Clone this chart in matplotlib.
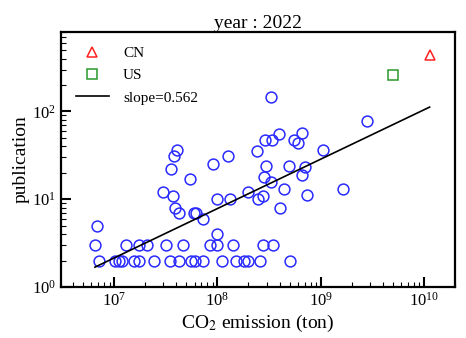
import numpy as np
import matplotlib.pyplot as plt
from matplotlib.ticker import LogLocator, NullFormatter

# countries: CO2 emission (ton) vs publication count, year 2022
emission = [6.8e6, 6.5e6, 7.1e6, 1.02e7, 1.1e7, 1.2e7, 1.3e7, 1.56e7, 1.75e7, 1.75e7,
            2.1e7, 2.44e7, 2.94e7, 3.2e7, 3.47e7, 3.55e7, 3.8e7, 4.07e7, 3.7e7, 3.9e7,
            4.2e7, 4.2e7, 4.67e7, 5.43e7, 5.6e7, 5.9e7, 6.2e7, 6.1e7, 7.3e7, 7.3e7,
            8.4e7, 9.0e7, 1.0e8, 1.0e8, 1.0e8, 1.1e8, 1.26e8, 1.31e8, 1.41e8, 1.52e8,
            1.82e8, 1.96e8, 2.0e8, 2.4e8, 2.45e8, 2.6e8, 2.76e8, 2.76e8, 2.92e8, 3.4e8,
            3.94e8, 3.3e8, 2.95e8, 2.8e8, 3.3e8, 4.4e8, 4.05e8, 3.45e8, 4.9e8, 5.0e8,
            5.5e8, 6.0e8, 6.6e8, 6.6e8, 7.0e8, 7.4e8, 1.05e9, 1.66e9, 2.8e9]
publication = [5, 3, 2, 2, 2, 2, 3, 2, 2, 3,
               3, 2, 12, 3, 2, 22, 31, 36, 11, 8,
               7, 2, 3, 17, 2, 7, 7, 2, 6, 2,
               3, 25, 10, 4, 3, 2, 31, 10, 3, 2,
               2, 2, 12, 35, 10, 2, 11, 3, 47, 47,
               55, 145, 24, 18, 15.5, 13.2, 8, 3, 24, 2,
               47.6, 43.6, 56, 19, 23.3, 11.1, 36, 13, 77]

cn = (1.14e10, 441)
us = (5.0e9, 261)

slope = 0.562
intercept = -3.603

plt.rcParams['font.family'] = ['Liberation Serif', 'DejaVu Serif']
plt.rcParams['mathtext.fontset'] = 'stix'

fig = plt.figure(figsize=(4.66, 3.38), dpi=100)
ax = fig.add_axes([0.131, 0.151, 0.845, 0.754])

ax.plot(emission, publication, 'o', mfc='none', mec='#2a2aff', mew=1.1, ms=7.8,
        linestyle='none')
ax.plot([cn[0]], [cn[1]], '^', mfc='none', mec='#ff2020', mew=1.1, ms=7,
        linestyle='none', label='CN')
ax.plot([us[0]], [us[1]], 's', mfc='none', mec='#2a9a2a', mew=1.1, ms=7,
        linestyle='none', label='US')

xs = np.array([min(emission), cn[0]])
ax.plot(xs, 10 ** (slope * np.log10(xs) + intercept), color='black', lw=1.2,
        label=f'slope={slope}')

ax.set_xscale('log')
ax.set_yscale('log')
ax.set_xlim(3.05e6, 2e10)
ax.set_ylim(1, 800)

ax.xaxis.set_major_locator(LogLocator(base=10, numticks=10))
ax.xaxis.set_minor_locator(LogLocator(base=10, subs=np.arange(2, 10), numticks=20))
ax.yaxis.set_minor_locator(LogLocator(base=10, subs=np.arange(2, 10), numticks=20))
ax.xaxis.set_minor_formatter(NullFormatter())
ax.yaxis.set_minor_formatter(NullFormatter())

ax.tick_params(which='both', direction='in', top=False, right=False, labelsize=12)
ax.tick_params(which='major', length=7, width=1.5)
ax.tick_params(which='minor', length=3.5, width=0.8)
for sp in ax.spines.values():
    sp.set_linewidth(1.6)

ax.set_xlabel('CO$_2$ emission (ton)', fontsize=14, labelpad=2)
ax.set_ylabel('publication', fontsize=14, labelpad=2)
ax.set_title('year : 2022', fontsize=14, pad=3)

ax.legend(loc='upper left', frameon=False, fontsize=11, handlelength=2.2,
          handletextpad=0.9, labelspacing=0.55, borderaxespad=0.55)

fig.savefig('out.png', dpi=100)
